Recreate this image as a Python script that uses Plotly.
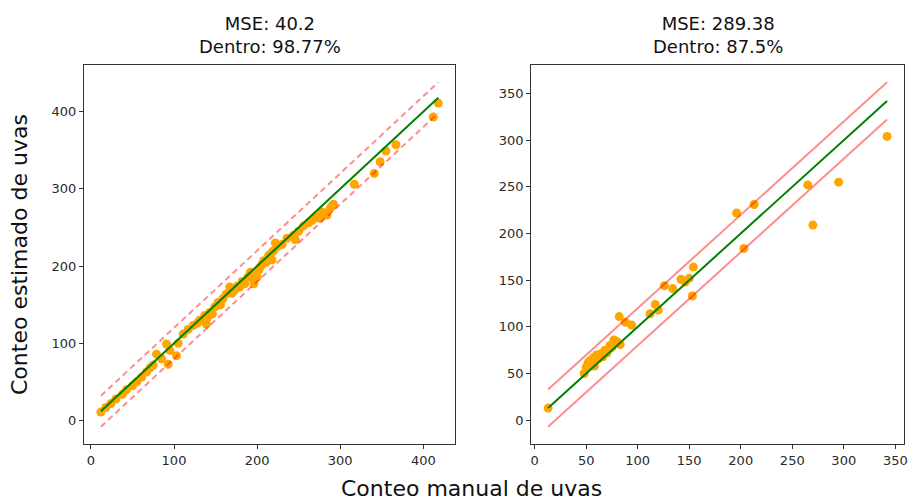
import numpy as np
import plotly.graph_objects as go

# Manual vs. estimated grape counts, first set
manual_a = [12, 18, 24, 30, 38, 43, 50, 55, 61, 67, 71, 75, 79, 85, 93, 91, 95, 103, 105, 111,
            117, 123, 128, 131, 137, 139, 143, 146, 149, 153, 156, 159, 163, 167, 170, 173, 176, 179, 182, 185,
            189, 192, 195, 196, 200, 202, 204, 206, 208, 211, 214, 218, 218, 220, 222, 224, 230, 244, 246, 250,
            256, 262, 266, 272, 275, 278, 281, 284, 288, 290, 292, 317, 341, 348, 355, 367, 412, 418, 268, 236,
            140]
estim_a = [11, 17, 22, 28, 34, 40, 45, 50, 56, 63, 68, 72, 86, 80, 73, 99, 91, 84, 100, 112,
           118, 123, 126, 130, 136, 125, 140, 138, 147, 153, 150, 158, 164, 173, 165, 169, 174, 173, 180, 177,
           186, 192, 183, 177, 186, 195, 199, 202, 207, 205, 214, 208, 218, 220, 230, 225, 228, 240, 234, 245,
           252, 256, 259, 264, 262, 270, 268, 266, 275, 278, 280, 306, 320, 335, 349, 357, 393, 411, 262, 236,
           133]

# Second set
manual_b = [13, 48, 50, 52, 54, 56, 57, 58, 60, 62, 64, 66, 68, 70, 72, 73, 75, 77, 80, 83,
            82, 88, 94, 112, 117, 120, 126, 134, 142, 146, 150, 153, 154, 196, 203, 213, 265, 270, 295, 342]
estim_b = [13, 50, 57, 62, 64, 60, 67, 58, 70, 66, 71, 68, 75, 72, 76, 80, 78, 86, 84, 81,
           111, 105, 102, 114, 124, 118, 144, 141, 151, 148, 152, 133, 164, 222, 184, 231, 252, 209, 255, 304]

titles = ["MSE: 40.2<br>Dentro: 98.77%", "MSE: 289.38<br>Dentro: 87.5%"]
band = 20
x_label = "Conteo manual de uvas"
y_label = "Conteo estimado de uvas"

FONT = "DejaVu Sans"
AX = "#333333"
ORANGE = "#FFA500"
BAND = "rgba(255,0,0,0.45)"

fig = go.Figure()


def auto_range(lo, hi, pad=0.05):
    span = hi - lo
    return [lo - pad * span, hi + pad * span]


panels = [
    (manual_a, estim_a, "x", "y", "dash", 100),
    (manual_b, estim_b, "x2", "y2", "solid", 50),
]

layout_axes = {}
for i, (mx, ey, xa, ya, dash, step) in enumerate(panels):
    mx = np.array(mx, dtype=float)
    ey = np.array(ey, dtype=float)
    lo, hi = mx.min(), mx.max()
    fig.add_trace(go.Scatter(x=mx, y=ey, mode="markers", xaxis=xa, yaxis=ya,
                             marker=dict(color=ORANGE, size=9, line=dict(width=0)),
                             showlegend=False, hoverinfo="skip"))
    line_x = [lo, hi]
    for off in (band, -band):
        fig.add_trace(go.Scatter(x=line_x, y=[lo + off, hi + off], mode="lines", xaxis=xa, yaxis=ya,
                                 line=dict(color=BAND, width=2, dash=dash if dash == "solid" else "6px,4px"),
                                 showlegend=False, hoverinfo="skip"))
    fig.add_trace(go.Scatter(x=line_x, y=line_x, mode="lines", xaxis=xa, yaxis=ya,
                             line=dict(color="#008000", width=2),
                             showlegend=False, hoverinfo="skip"))

    xr = auto_range(lo, hi)
    ylo = min(ey.min(), lo - band)
    yhi = max(ey.max(), hi + band)
    yr = auto_range(ylo, yhi)
    common = dict(showline=True, mirror=True, linecolor=AX, linewidth=1,
                  ticks="outside", ticklen=4, tickwidth=1, tickcolor=AX,
                  showgrid=False, zeroline=False,
                  tickfont=dict(family=FONT, size=13, color="#2a2a2a"))
    xname = "xaxis" if i == 0 else "xaxis2"
    yname = "yaxis" if i == 0 else "yaxis2"
    dom = [0, 0.4526] if i == 0 else [0.5453, 1]
    layout_axes[xname] = dict(common, range=xr, dtick=step, tick0=0, domain=dom,
                              anchor=ya)
    layout_axes[yname] = dict(common, range=yr, dtick=step, tick0=0, anchor=xa)

    fig.add_annotation(text=titles[i], xref=f"{xa} domain" if xa != "x" else "x domain",
                       yref="paper", x=0.5, y=1, xanchor="center", yanchor="bottom",
                       yshift=6, showarrow=False,
                       font=dict(family=FONT, size=18, color="#111111"))

fig.add_annotation(text=x_label, xref="paper", yref="paper", x=0.473, y=0,
                   xanchor="center", yanchor="top", yshift=-30, showarrow=False,
                   font=dict(family=FONT, size=22, color="#111111"))
fig.add_annotation(text=y_label, xref="paper", yref="paper", x=0, y=0.5,
                   xanchor="right", yanchor="middle", xshift=-50, textangle=-90,
                   showarrow=False, font=dict(family=FONT, size=22, color="#111111"))

fig.update_layout(width=914, height=502, margin=dict(l=84, r=6, t=65, b=58),
                  paper_bgcolor="white", plot_bgcolor="white", **layout_axes)

fig.write_html("out.html")
